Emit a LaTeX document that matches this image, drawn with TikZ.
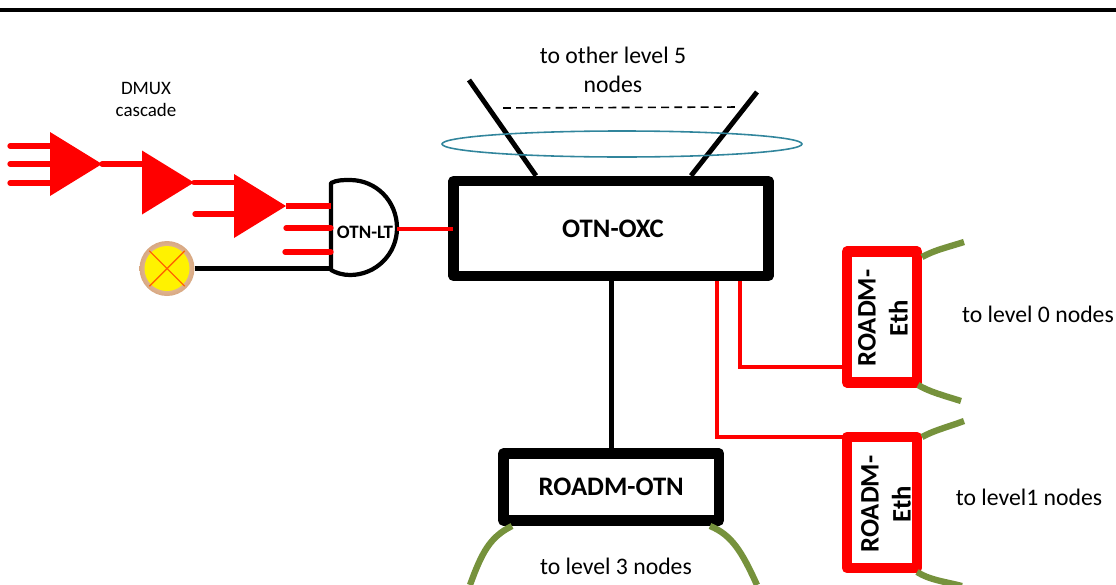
\documentclass[tikz,border=0pt]{standalone}
\usepackage{fontspec}
\setmainfont{Carlito}
\usepackage{tikz}
\usetikzlibrary{shapes.geometric,shapes.misc}

\definecolor{wirered}{RGB}{255,0,0}
\definecolor{fibregreen}{RGB}{118,146,60}
\definecolor{ringteal}{RGB}{49,133,156}
\definecolor{lamptan}{RGB}{216,168,130}
\definecolor{lamppeach}{RGB}{250,225,200}

\tikzset{
	blackwire/.style={line width=2.8pt},
	redwire/.style={line width=2.8pt,wirered},
	inwire/.style={line width=3pt,wirered,line cap=round},
	greenwire/.style={line width=3.6pt,fibregreen},
	bigbox/.style={draw,line width=6pt,line join=round,inner sep=0pt,font=\bfseries\fontsize{15.2}{18}\selectfont},
	ethbox/.style={bigbox,draw=wirered,minimum width=70*0.02cm,minimum height=131*0.02cm},
	ethtext/.style={rotate=90,align=center,inner sep=0pt,font=\bfseries\fontsize{15.2}{18.2}\selectfont},
	dmuxtri/.style={isosceles triangle,isosceles triangle stretches,fill=wirered,inner sep=0pt,outer sep=0pt,minimum width=64*0.02cm,minimum height=52*0.02cm,anchor=apex},
	plain/.style={align=center,inner sep=0pt,font=\fontsize{13.5}{16.5}\selectfont}
}

\begin{document}
\begin{tikzpicture}[x=0.02cm,y=-0.02cm]
	\useasboundingbox (0,0) rectangle (1116,585);
	\clip (0,0) rectangle (1116,585);
	% top rule
	\coordinate (rulea) at (0,10);
	\coordinate (ruleb) at (1116,10);
	\draw[line width=1.8pt] (rulea) -- (ruleb);

	% boxes
	\node[bigbox,minimum width=315*0.02cm,minimum height=95*0.02cm] (oxc) at (611,228.5) {\hspace{0.08cm}OTN-OXC};
	\node[bigbox,minimum width=215.5*0.02cm,minimum height=67*0.02cm] (otn) at (611.2,487) {ROADM-OTN};
	\node[ethbox] (etha) at (882,317) {};
	\node[ethtext] (ethatext) at (883,318) {ROADM-\\Eth};
	\node[ethbox] (ethb) at (882,502.5) {};
	\node[ethtext] (ethbtext) at (886,504) {ROADM-\\Eth};

	% to level 5
	\coordinate (upa) at (469,80);
	\coordinate (upb) at (757,92);
	\coordinate (dasha) at (503,108);
	\coordinate (dashb) at (740,107);
	\draw[blackwire] (upa) -- (oxc.north -| 536,0);
	\draw[blackwire] (upb) -- (oxc.north -| 691,0);
	\draw[line width=0.9pt,dash pattern=on 4.5pt off 3pt] (dasha) -- (dashb);
	\node[draw=ringteal,line width=0.9pt,ellipse,minimum width=360*0.02cm,minimum height=26*0.02cm,inner sep=0pt] (ring) at (622,144) {};
	\node[plain] (toupper) at (613,69.5) {to other level 5\\nodes};

	% dmux cascade
	\node[align=center,inner sep=0pt,font=\fontsize{10.8}{13}\selectfont] (dmuxtext) at (146,99.5) {DMUX\\cascade};
	\node[dmuxtri] (dmuxa) at (102,164) {};
	\node[dmuxtri] (dmuxb) at (194,182.5) {};
	\node[dmuxtri] (dmuxc) at (286,206) {};
	\foreach \y in {146,164,183} {
		\coordinate (ina\y) at (10,\y);
		\draw[inwire] (ina\y) -- (ina\y -| dmuxa.west);
	}
	\draw[inwire] (dmuxa.apex) -- (dmuxa.apex -| dmuxb.west);
	\draw[inwire] (dmuxb.apex) -- (dmuxb.apex -| dmuxc.west);
	\coordinate (inc) at (195,214);
	\draw[inwire] (inc) -- (inc -| dmuxc.west);

	% line terminal
	\coordinate (ltl) at (331,228);
	\coordinate (ltr) at (397,229);
	\draw[line width=2.4pt,line join=round] (331,183) .. controls (337,180) and (343,180) .. (350,180)
		.. controls (376,180) and (397,201) .. (397,228) .. controls (397,254) and (376,275) .. (350,275)
		.. controls (343,275) and (336,273) .. (331,270) -- cycle;
	\node[inner sep=0pt,font=\bfseries\fontsize{10.8}{13}\selectfont] (otnlt) at (365,232.5) {OTN-LT};
	\draw[inwire,line cap=butt] (dmuxc.apex) -- (dmuxc.apex -| ltl);
	\coordinate (outb) at (286,228);
	\coordinate (outc) at (285,252);
	\draw[inwire] (outb) -- (outb -| ltl);
	\draw[inwire] (outc) -- (outc -| ltl);
	\draw[redwire,shorten >=-5*0.02cm] (ltr) -- (ltr -| oxc.west);

	% lamp
	\node[circle,minimum size=55*0.02cm,inner sep=0pt,inner color=lamppeach,outer color=lamptan] (lamp) at (167,268.5) {};
	\node[circle,minimum size=45*0.02cm,inner sep=0pt,fill=yellow] (lampin) at (lamp.center) {};
	\node[cross out,draw=orange!80!red,line width=0.8pt,minimum size=34*0.02cm,inner sep=0pt] (lampx) at (lamp.center) {};
	\draw[blackwire] (lamp.east) -- (lamp.east -| ltl);

	% oxc to the roadms
	\draw[blackwire] (oxc.south -| otn.north) -- (otn.north);
	\coordinate (ethain) at (847,367);
	\coordinate (ethbin) at (847,437);
	\coordinate (oxca) at (717,281);
	\coordinate (oxcb) at (740,281);
	\draw[redwire] (oxcb) |- (ethain);
	\draw[redwire] (oxca) |- (ethbin);

	% fibres
	\draw[greenwire] (512,526) .. controls (490,537) and (482,552) .. (470,585);
	\draw[greenwire] (710,526) .. controls (732,535) and (742,552) .. (757,585);
	\draw[greenwire] (922,257) .. controls (935,250) and (945,248) .. (964,242);
	\draw[greenwire] (918,385) .. controls (930,392) and (942,395) .. (961,401);
	\draw[greenwire] (922,437) .. controls (935,430) and (945,428) .. (964,421);
	\draw[greenwire] (917,572) .. controls (930,580) and (942,581) .. (962,586);

	% level labels
	\node[plain] (tolevela) at (1038,314) {to level 0 nodes};
	\node[plain] (tolevelb) at (1029,497) {to level1 nodes};
	\node[plain] (tolevelc) at (616,566) {to level 3 nodes};
\end{tikzpicture}
\end{document}
